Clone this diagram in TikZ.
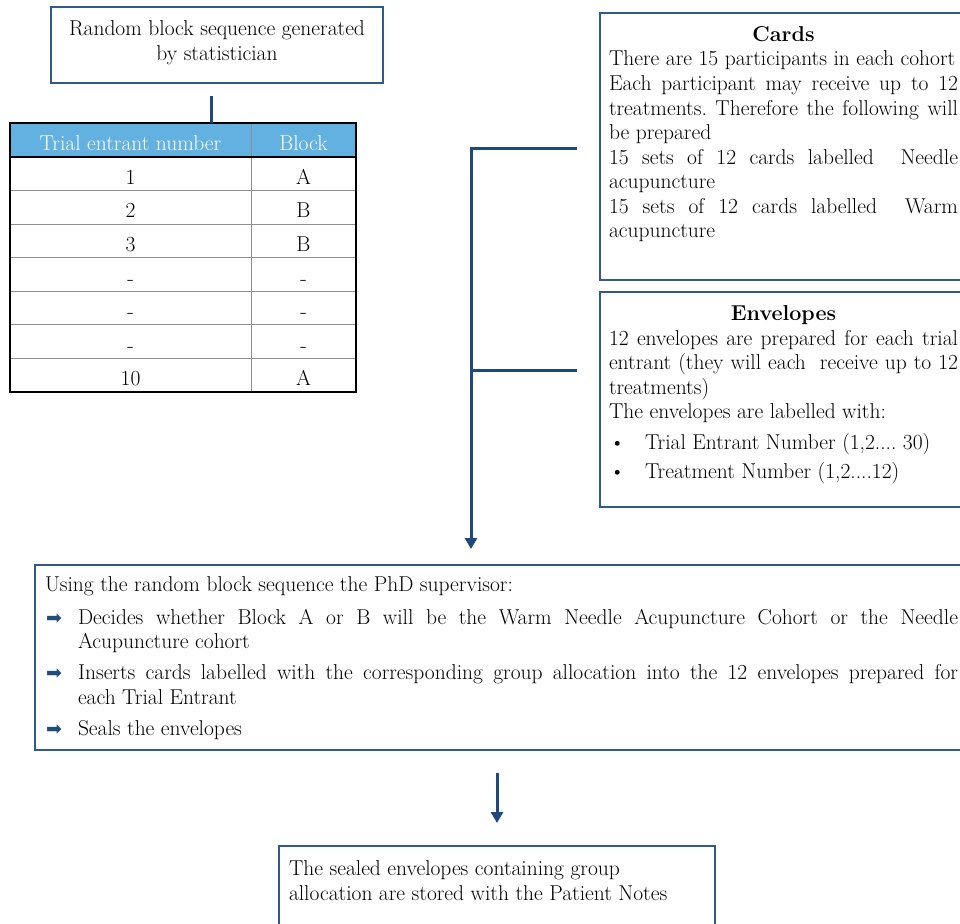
\documentclass[tikz,border=0pt]{standalone}
\usepackage{fontspec}
\newfontfamily\symfont{DejaVu Sans}
\usetikzlibrary{arrows.meta,calc}
\frenchspacing
\definecolor{boxcol}{HTML}{2F5A8C}
\definecolor{conncol}{HTML}{1F497D}
\definecolor{headcol}{HTML}{63B1E0}
\definecolor{gridcol}{HTML}{8E8E8E}
\definecolor{bulcol}{HTML}{1F4E79}
\newcommand{\topgap}[1][28.5pt]{\vspace*{\dimexpr #1-0.7\baselineskip\relax}}
\newcommand{\jline}[1]{\makebox[\linewidth][s]{#1}\par}
\newcommand{\rarr}{{\symfont\fontsize{19}{19}\selectfont\color{bulcol}\symbol{"27A1}}}
\newcommand{\bul}{\makebox[36pt][l]{\hspace{0.5pt}\textbullet}}
\newcommand{\arritem}{\makebox[33pt][l]{\hspace{1pt}\rarr}}
\tikzset{
  every node/.append style={font=\fontsize{21.5}{24.5}\selectfont},
  box/.style={draw=boxcol, line width=1.8pt, inner ysep=0pt, inner xsep=10pt,
    outer sep=0pt, anchor=north west, fill=white},
  cell/.style={anchor=center, inner sep=0pt, text height=13pt, text depth=4pt, yshift=-6pt},
  conn/.style={draw=conncol, line width=3pt},
  arr/.style={conn, -{Triangle[width=12pt,length=11pt]}},
  grid/.style={draw=gridcol, line width=1pt},
}
\begin{document}
\begin{tikzpicture}[x=1pt,y=-1pt]
\useasboundingbox (0,0) rectangle (960,923);
\clip (0,0) rectangle (960,923);

% top box
\node[box, inner xsep=0pt] (seq) at (51,7)
  {\parbox[c][76pt][t]{332pt}{\topgap[29pt]\centering\strut Random block sequence generated\\by statistician}};

% table
\node[anchor=north west, minimum width=346pt, minimum height=269pt, inner sep=0pt, outer sep=0pt] (tab) at (10,123) {};
\fill[headcol] (tab.north west) rectangle ($(tab.north east)+(0,34)$);
\foreach \k in {2,...,7} {
  \draw[grid] (10,{157+(\k-1)*33.571}) -- (356,{157+(\k-1)*33.571});
}
\draw[grid] (251,123) -- (251,392);
\draw[black, line width=1.8pt] (10,157) -- (356,157);
\draw[black, line width=2pt] (tab.north west) rectangle (tab.south east);
\node[cell, text=white] (h1) at (130.5,140) {Trial entrant number};
\node[cell, text=white] (h2) at (303.5,140) {Block};
\foreach \i/\a/\b in {1/1/A,2/2/B,3/3/B,4/-/-,5/-/-,6/-/-,7/10/A} {
  \node[cell] (ra\i) at (130.5,{157+(\i-0.5)*33.571}) {\a};
  \node[cell] (rb\i) at (303.5,{157+(\i-0.5)*33.571}) {\b};
}

% cards box
\node[box, inner xsep=9pt] (cards) at (600,13)
  {\parbox[c][267pt][t]{349pt}{\topgap{\centering\strut\textbf{Cards}\par}
   There are 15 participants in each cohort\par
   \jline{Each participant may receive up to 12}
   \jline{treatments. Therefore the following will}
   be prepared\par
   \jline{15 sets of 12 cards labelled\ \ Needle}
   acupuncture\par
   \jline{15 sets of 12 cards labelled\ \ Warm}
   acupuncture\par}};

% envelopes box
\node[box, inner xsep=9pt] (env) at (600,292)
  {\parbox[c][215pt][t]{349pt}{\topgap{\centering\strut\textbf{Envelopes}\par}
   \jline{12 envelopes are prepared for each trial}
   \jline{entrant (they will each\ \ receive up to 12}
   treatments)\par
   The envelopes are labelled with:\par
   \vspace{6pt}\bul Trial Entrant Number (1,2.... 30)\par
   \vspace{4.5pt}\bul Treatment Number (1,2....12)\par}};

% supervisor box
\node[box, inner xsep=10pt] (sup) at (35,565)
  {\parbox[c][185pt][t]{913pt}{\topgap[26.5pt]\strut Using the random block sequence the PhD supervisor:\par
   \vspace{8pt}\arritem\makebox[880pt][s]{Decides whether Block A or B will be the Warm Needle Acupuncture Cohort or the Needle}\par
   \hspace*{33pt}Acupuncture cohort\par
   \vspace{6.5pt}\arritem\makebox[880pt][s]{Inserts cards labelled with the corresponding group allocation into the 12 envelopes prepared for}\par
   \hspace*{33pt}each Trial Entrant\par
   \vspace{6.5pt}\arritem Seals the envelopes\par}};

% bottom box
\node[box, inner xsep=10pt] (bot) at (279,846)
  {\parbox[c][90pt][t]{416pt}{\topgap[29.5pt]\raggedright\strut The sealed envelopes containing group\\allocation are stored with the Patient Notes}};

% connectors
\coordinate (s1) at ($(seq.south west)+(160,13)$);
\draw[conn] (s1) -- (s1 |- tab.north);

\coordinate (b1) at ($(cards.west)+(-23,1.5)$);
\coordinate (b2) at ($(env.west)+(-23,-29)$);
\coordinate (tip) at ($(sup.north west)+(436,-16)$);
\draw[arr] (b1) -| (tip);
\draw[conn] (b2) -- (b2 -| tip);

\coordinate (a2s) at ($(bot.north)+(0,-73)$);
\coordinate (a2e) at ($(bot.north)+(0,-23)$);
\draw[arr] (a2s) -- (a2e);
\end{tikzpicture}
\end{document}
